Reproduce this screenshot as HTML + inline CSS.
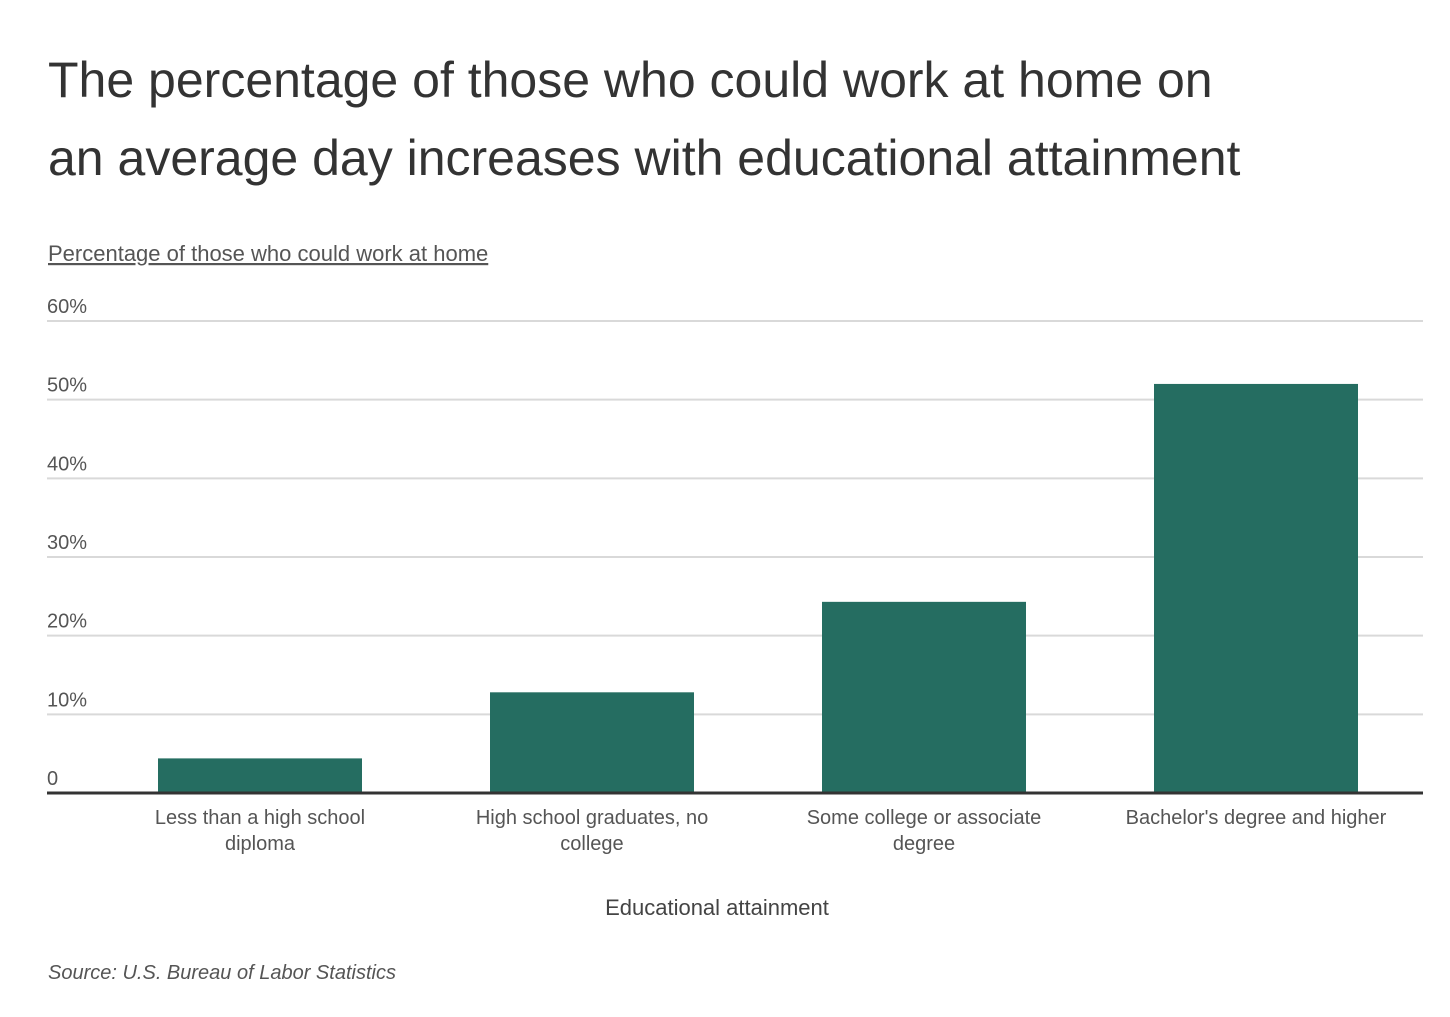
<!DOCTYPE html>
<html><head><meta charset="utf-8"><style>
body{margin:0;background:#fff;width:1450px;height:1012px;overflow:hidden;font-family:"Liberation Sans",sans-serif;}
</style></head><body>
<svg width="1450" height="1012">
<text x="48" y="97" font-size="50" fill="#333">The percentage of those who could work at home on</text>
<text x="48" y="175" font-size="50" fill="#333">an average day increases with educational attainment</text>
<text x="48" y="261" font-size="22" fill="#555" text-decoration="underline">Percentage of those who could work at home</text>
<g id="grid"></g>
<g id="bars"></g>
<g id="cats"></g>
<text x="717" y="915" font-size="22" fill="#444" text-anchor="middle">Educational attainment</text>
<text x="48" y="979" font-size="20" fill="#555" font-style="italic">Source: U.S. Bureau of Labor Statistics</text>
</svg>
<script>
const categories=[["Less than a high school","diploma"],["High school graduates, no","college"],["Some college or associate","degree"],["Bachelor's degree and higher"]];
const values=[4.4,12.8,24.3,52.0];
const ticks=[0,10,20,30,40,50,60];
const tickLabels=["0","10%","20%","30%","40%","50%","60%"];
const NS="http://www.w3.org/2000/svg";
const y0=793,pxPer=(793-321)/60;
const y=v=>y0-v*pxPer;
const left=94,band=332,bw=204;
const x=i=>left+band*i+band/2;
function mk(t,a,p){const e=document.createElementNS(NS,t);for(const k in a)e.setAttribute(k,a[k]);p.appendChild(e);return e;}
const g=document.getElementById('grid');
ticks.forEach((t,i)=>{
 if(t>0){const l=mk('line',{x1:47,x2:1423,y1:y(t),y2:y(t),stroke:'#d9d9d9','stroke-width':2},g);
 
 }
 const tx=mk('text',{x:47,y:y(t)-8,'font-size':20,fill:'#555'},g);tx.textContent=tickLabels[i];
 
 
});
const b=document.getElementById('bars');
values.forEach((v,i)=>{
 const r=mk('rect',{x:x(i)-bw/2,y:y(v),width:bw,height:y0-y(v),fill:'#256d61'},b);
 
 
});
const base=mk('line',{x1:47,x2:1423,y1:y0,y2:y0,stroke:'#333','stroke-width':3},b);


const c=document.getElementById('cats');
categories.forEach((lines,i)=>{
 const t=mk('text',{x:x(i),y:824,'font-size':20,fill:'#555','text-anchor':'middle'},c);
 
 
 lines.forEach((s,j)=>{const ts=mk('tspan',{x:x(i),dy:j?26:0},t);ts.textContent=s;});
});
</script>
</body></html>
